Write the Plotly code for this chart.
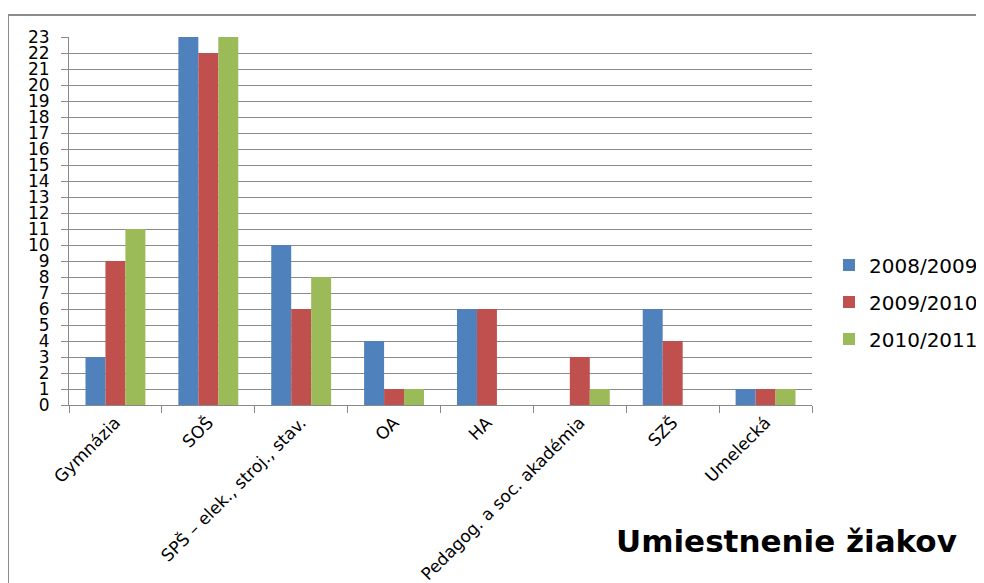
import plotly.graph_objects as go

categories = ["Gymnázia", "SOŠ", "SPŠ – elek., stroj., stav.", "OA", "HA",
              "Pedagog. a soc. akadémia", "SZŠ", "Umelecká"]
s2008 = [3, 23, 10, 4, 6, 0, 6, 1]
s2009 = [9, 22, 6, 1, 6, 3, 4, 1]
s2010 = [11, 23, 8, 1, 0, 1, 0, 1]
series_names = ["2008/2009", "2009/2010", "2010/2011"]
colors = ["#4F81BD", "#C0504D", "#9BBB59"]
yticks = list(range(0, 24))

OFF = 8  # default page body margin
W, H = 984 - OFF, 583 - OFF
# target plot area in screen pixels
SL, SR, ST, SB = 69, 812, 37, 405
L, R, T, B = SL - OFF, W - (SR - OFF), ST - OFF, H - (SB - OFF)
pw, ph = W - L - R, H - T - B

def px_x(px):
    return (px - OFF - L) / pw

def px_y(py):
    return (H - B - (py - OFF)) / ph

fig = go.Figure()
for name, vals, c in zip(series_names, [s2008, s2009, s2010], colors):
    fig.add_trace(go.Bar(x=categories, y=vals, name=name, marker_color=c,
                         marker_line_width=0, legendgroup=name))

font = "DejaVu Sans"
fig.update_layout(
    width=W, height=H,
    margin=dict(l=L, r=R, t=T, b=B, autoexpand=False),
    paper_bgcolor="white", plot_bgcolor="white",
    barmode="group", bargap=0.355, bargroupgap=0,
    font=dict(family=font, size=17, color="black"),
    xaxis=dict(showgrid=False, showline=True, linecolor="#888888", linewidth=1,
               ticks="outside", tickson="boundaries", ticklen=7, tickcolor="#888888",
               tickangle=-45, tickfont=dict(family=font, size=17, color="black"),
               range=[-0.5, 7.5], automargin=False),
    yaxis=dict(range=[0, 23], tickvals=yticks, showgrid=True, gridcolor="#8A8A8A",
               gridwidth=1, showline=True, linecolor="#888888", linewidth=1,
               ticks="outside", ticklen=7, tickcolor="#8A8A8A", ticklabelstandoff=8,
               tickfont=dict(family=font, size=17, color="black"), zeroline=False,
               automargin=False),
    legend=dict(x=px_x(829), y=px_y(302), xanchor="left", yanchor="middle",
                font=dict(family=font, size=20, color="black"),
                itemwidth=30, tracegroupgap=8, bgcolor="rgba(0,0,0,0)"),
    shapes=[dict(type="rect", xref="paper", yref="paper",
                 x0=px_x(8), x1=px_x(1000), y0=px_y(600), y1=px_y(15),
                 line=dict(color="#8C8C8C", width=2), layer="below")],
    annotations=[dict(text="<b>Umiestnenie žiakov</b>", xref="paper", yref="paper",
                      x=px_x(786), y=px_y(541), xanchor="center", yanchor="middle",
                      showarrow=False,
                      font=dict(family=font, size=31, color="black"))],
)
fig.write_html("out.html")
